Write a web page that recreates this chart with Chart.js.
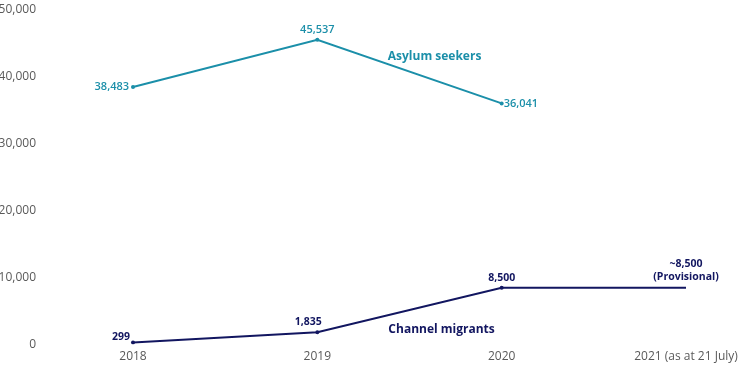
<!DOCTYPE html>
<html>
<head>
<meta charset="utf-8">
<script src="https://cdn.jsdelivr.net/npm/chart.js@4"></script>
<style>
  html, body { margin: 0; padding: 0; background: #fff; }
  #wrap { width: 754px; height: 370px; }
</style>
</head>
<body>
<div id="wrap"><canvas id="myChart"></canvas></div>
<script>
const years = ["2018", "2019", "2020", "2021 (as at 21 July)"];
const asylumSeekers = [38483, 45537, 36041, null];
const channelMigrants = [299, 1835, 8500, 8500];
const channelLabels = ["299", "1,835", "8,500", ["~8,500", "(Provisional)"]];
const asylumLabels = ["38,483", "45,537", "36,041", null];

const teal = "#1b8fa9";
const navy = "#121660";

// draws the value labels and the series names next to the lines
const labelPlugin = {
  id: "labels",
  afterDatasetsDraw(chart) {
    const ctx = chart.ctx;
    const x = chart.scales.x;
    const y = chart.scales.y;
    ctx.save();
    ctx.textBaseline = "middle";

    ctx.font = "600 11px 'Open Sans'";
    ctx.fillStyle = teal;
    const aMeta = chart.getDatasetMeta(0);
    aMeta.data.forEach((pt, i) => {
      const txt = asylumLabels[i];
      if (!txt) return;
      if (i == 0) { ctx.textAlign = "right"; ctx.fillText(txt, pt.x - 4, pt.y); }
      else if (i == 1) { ctx.textAlign = "center"; ctx.fillText(txt, pt.x, pt.y - 10); }
      else { ctx.textAlign = "left"; ctx.fillText(txt, pt.x + 2, pt.y); }
    });

    ctx.font = "bold 10.5px 'Open Sans'";
    ctx.fillStyle = navy;
    const cMeta = chart.getDatasetMeta(1);
    cMeta.data.forEach((pt, i) => {
      const txt = channelLabels[i];
      if (i == 0) { ctx.textAlign = "right"; ctx.fillText(txt, pt.x - 3, pt.y - 6); }
      else if (i == 1) { ctx.textAlign = "center"; ctx.fillText(txt, pt.x - 9, pt.y - 10); }
      else if (i == 2) { ctx.textAlign = "center"; ctx.fillText(txt, pt.x, pt.y - 10); }
      else {
        ctx.textAlign = "center";
        ctx.fillText(txt[0], pt.x, pt.y - 24);
        ctx.fillText(txt[1], pt.x, pt.y - 11);
      }
    });

    ctx.font = "bold 12px 'Open Sans'";
    ctx.textAlign = "center";
    ctx.fillStyle = teal;
    ctx.fillText("Asylum seekers", x.getPixelForValue(1.636), y.getPixelForValue(43000));
    ctx.fillStyle = navy;
    ctx.fillText("Channel migrants", x.getPixelForValue(1.674), y.getPixelForValue(2250));
    ctx.restore();
  }
};

new Chart(document.getElementById("myChart"), {
  type: "line",
  data: {
    labels: years,
    datasets: [
      {
        label: "Asylum seekers",
        data: asylumSeekers,
        borderColor: teal,
        backgroundColor: teal,
        borderWidth: 2,
        pointRadius: 2,
        pointBorderWidth: 0,
        tension: 0,
      },
      {
        label: "Channel migrants",
        data: channelMigrants,
        borderColor: navy,
        backgroundColor: navy,
        borderWidth: 2,
        pointRadius: [2, 2, 2, 0],
        pointBorderWidth: 0,
        tension: 0,
      },
    ],
  },
  options: {
    responsive: true,
    maintainAspectRatio: false,
    animation: false,
    layout: { padding: { top: 10, right: 68, bottom: 1, left: 0 } },
    plugins: {
      legend: { display: false },
      tooltip: { enabled: false },
    },
    scales: {
      x: {
        offset: false,
        grid: { display: false, drawTicks: false },
        border: { display: false },
        ticks: {
          color: "#595959",
          font: { family: "'Open Sans'", size: 12 },
          padding: 5,
          maxRotation: 0,
          autoSkip: false,
        },
      },
      y: {
        min: 0,
        max: 50000,
        grid: { display: false, drawTicks: false },
        border: { display: false },
        afterFit: (scale) => {
          scale.width = 133;
          scale.paddingTop = 0;
          scale.paddingBottom = 0;
        },
        ticks: {
          stepSize: 10000,
          color: "#595959",
          font: { family: "'Open Sans'", size: 12 },
          padding: 97,
          callback: (v) => v.toLocaleString("en-GB"),
        },
      },
    },
  },
  plugins: [labelPlugin],
});
</script>
</body>
</html>
